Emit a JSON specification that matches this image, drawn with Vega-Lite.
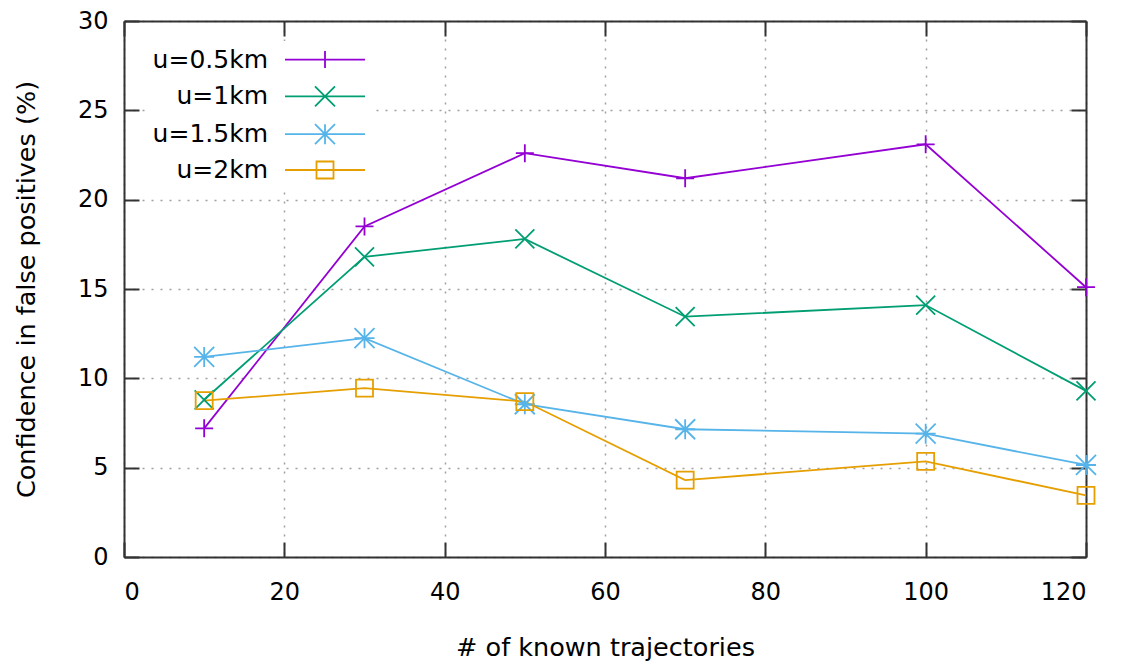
{
  "$schema": "https://vega.github.io/schema/vega-lite/v6.json",
  "width": 962,
  "height": 536,
  "autosize": {"type": "none"},
  "padding": {"left": 124, "top": 21, "right": 40, "bottom": 113},
  "background": "white",
  "data": {
    "values": [
      {"n": 10, "series": "u=0.5km", "v": 7.2},
      {"n": 30, "series": "u=0.5km", "v": 18.5},
      {"n": 50, "series": "u=0.5km", "v": 22.6},
      {"n": 70, "series": "u=0.5km", "v": 21.2},
      {"n": 100, "series": "u=0.5km", "v": 23.1},
      {"n": 120, "series": "u=0.5km", "v": 15.1},
      {"n": 10, "series": "u=1km", "v": 8.8},
      {"n": 30, "series": "u=1km", "v": 16.8},
      {"n": 50, "series": "u=1km", "v": 17.8},
      {"n": 70, "series": "u=1km", "v": 13.45},
      {"n": 100, "series": "u=1km", "v": 14.1},
      {"n": 120, "series": "u=1km", "v": 9.3},
      {"n": 10, "series": "u=1.5km", "v": 11.2},
      {"n": 30, "series": "u=1.5km", "v": 12.25},
      {"n": 50, "series": "u=1.5km", "v": 8.55},
      {"n": 70, "series": "u=1.5km", "v": 7.15},
      {"n": 100, "series": "u=1.5km", "v": 6.9},
      {"n": 120, "series": "u=1.5km", "v": 5.15},
      {"n": 10, "series": "u=2km", "v": 8.75},
      {"n": 30, "series": "u=2km", "v": 9.45},
      {"n": 50, "series": "u=2km", "v": 8.7},
      {"n": 70, "series": "u=2km", "v": 4.3},
      {"n": 100, "series": "u=2km", "v": 5.35},
      {"n": 120, "series": "u=2km", "v": 3.45}
    ]
  },
  "encoding": {
    "color": {
      "field": "series",
      "type": "nominal",
      "scale": {
        "domain": ["u=0.5km", "u=1km", "u=1.5km", "u=2km"],
        "range": ["#9400d3", "#009e73", "#56b4e9", "#e69f00"]
      },
      "legend": {
        "title": null,
        "orient": "none",
        "legendX": 22,
        "legendY": 20.1,
        "direction": "vertical",
        "padding": 6,
        "fillColor": "white",
        "strokeColor": null,
        "rowPadding": 8.8,
        "symbolSize": 400,
        "symbolOffset": 160.5,
        "symbolStrokeWidth": 1.8,
        "labelAlign": "right",
        "labelOffset": -69.5,
        "labelFont": "DejaVu Sans",
        "labelFontSize": 25,
        "labelColor": "#000000",
        "labelLimit": 0,
        "encode": {
          "symbols": {
            "update": {
              "shape": {
                "signal": "datum.value === 'u=0.5km' ? 'M-4,0L4,0M0,-0.85L0,0.85' : datum.value === 'u=1km' ? 'M-4,0L4,0M-1,-1L1,1M-1,1L1,-1' : datum.value === 'u=1.5km' ? 'M-4,0L4,0M0,-1L0,1M-1,-1L1,1M-1,1L1,-1' : 'M-4,0L4,0M-0.85,-0.85L0.85,-0.85L0.85,0.85L-0.85,0.85Z'"
              },
              "fill": {"value": "transparent"},
              "strokeWidth": {"value": 1.8},
              "opacity": {"value": 1}
            }
          }
        }
      }
    }
  },
  "layer": [
    {
      "mark": {"type": "line", "strokeWidth": 1.8, "clip": false},
      "encoding": {
        "x": {
          "field": "n",
          "type": "quantitative",
          "scale": {"domain": [0, 120], "nice": false, "zero": false},
          "axis": {
            "orient": "bottom",
            "values": [0, 20, 40, 60, 80, 100, 120],
            "title": "# of known trajectories",
            "labelPadding": 38,
            "titlePadding": 31
          }
        },
        "y": {
          "field": "v",
          "type": "quantitative",
          "scale": {"domain": [0, 30], "nice": false, "zero": false},
          "axis": {
            "orient": "left",
            "values": [0, 5, 10, 15, 20, 25, 30],
            "title": "Confidence in false positives (%)",
            "labelPadding": 31,
            "titlePadding": 38
          }
        },
        "detail": {"field": "series"}
      }
    },
    {
      "transform": [{"filter": {"field": "series", "equal": "u=0.5km"}}],
      "mark": {"type": "point", "shape": "M-0.9,0L0.9,0M0,-0.9L0,0.9", "filled": false, "strokeWidth": 1.8, "size": 400, "opacity": 1, "clip": false},
      "encoding": {
        "x": {
          "field": "n",
          "type": "quantitative",
          "axis": {"orient": "top", "values": [0, 20, 40, 60, 80, 100, 120], "labels": false, "grid": false, "title": null}
        },
        "y": {
          "field": "v",
          "type": "quantitative",
          "axis": {"orient": "right", "values": [0, 5, 10, 15, 20, 25, 30], "labels": false, "grid": false, "title": null}
        }
      }
    },
    {
      "transform": [{"filter": {"field": "series", "equal": "u=1km"}}],
      "mark": {"type": "point", "shape": "M-0.95,-0.95L0.95,0.95M-0.95,0.95L0.95,-0.95", "filled": false, "strokeWidth": 1.8, "size": 400, "opacity": 1, "clip": false},
      "encoding": {
        "x": {"field": "n", "type": "quantitative", "axis": null},
        "y": {"field": "v", "type": "quantitative", "axis": null}
      }
    },
    {
      "transform": [{"filter": {"field": "series", "equal": "u=1.5km"}}],
      "mark": {"type": "point", "shape": "M-1,0L1,0M0,-1L0,1M-1,-1L1,1M-1,1L1,-1", "filled": false, "strokeWidth": 1.8, "size": 400, "opacity": 1, "clip": false},
      "encoding": {
        "x": {"field": "n", "type": "quantitative", "axis": null},
        "y": {"field": "v", "type": "quantitative", "axis": null}
      }
    },
    {
      "transform": [{"filter": {"field": "series", "equal": "u=2km"}}],
      "mark": {"type": "point", "shape": "M-0.85,-0.85L0.85,-0.85L0.85,0.85L-0.85,0.85Z", "filled": false, "strokeWidth": 1.8, "size": 400, "opacity": 1, "clip": false},
      "encoding": {
        "x": {"field": "n", "type": "quantitative", "axis": null},
        "y": {"field": "v", "type": "quantitative", "axis": null}
      }
    }
  ],
  "resolve": {"axis": {"x": "independent", "y": "independent"}},
  "config": {
    "font": "DejaVu Sans",
    "view": {"stroke": null},
    "axis": {
      "domain": true,
      "domainColor": "#333333",
      "domainWidth": 2,
      "ticks": true,
      "tickColor": "#333333",
      "tickWidth": 2,
      "tickSize": -15,
      "labelFont": "DejaVu Sans",
      "labelFontSize": 24,
      "labelColor": "#000000",
      "titleFont": "DejaVu Sans",
      "titleFontSize": 25.5,
      "titleFontWeight": "normal",
      "titleColor": "#000000",
      "grid": true,
      "gridColor": "#a0a0a0",
      "gridDash": [2, 7],
      "gridWidth": 1.5
    }
  }
}
